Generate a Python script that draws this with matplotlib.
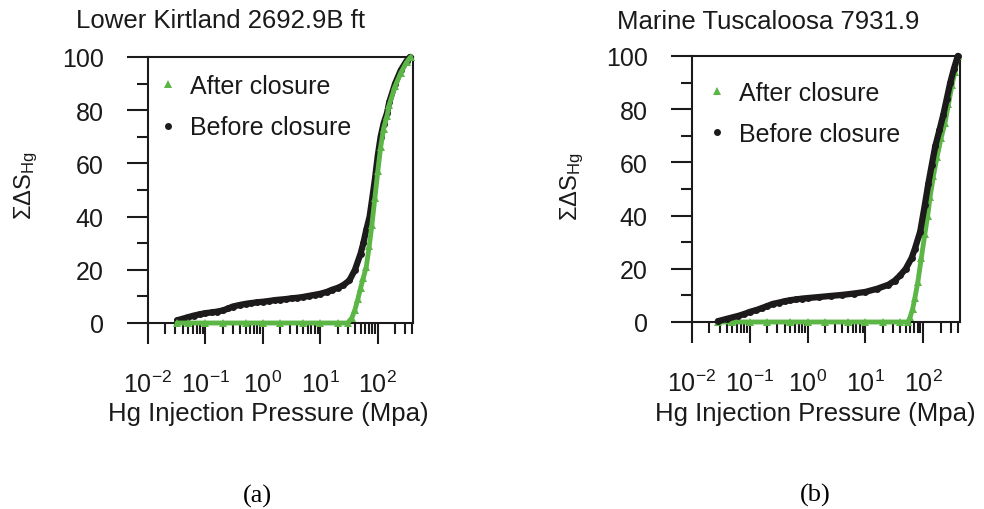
import matplotlib
matplotlib.use("Agg")
import matplotlib.pyplot as plt
from matplotlib.ticker import FixedLocator, LogFormatterSciNotation, NullFormatter

plt.rcParams["font.family"] = ["Liberation Sans", "DejaVu Sans"]
plt.rcParams["mathtext.fontset"] = "custom"
plt.rcParams["mathtext.rm"] = "Liberation Sans"
plt.rcParams["mathtext.it"] = "Liberation Sans:italic"
plt.rcParams["mathtext.default"] = "regular"

# ---- Lower Kirtland 2692.9B ft ----
kirt_before_p = [0.032, 0.04, 0.05, 0.063, 0.08, 0.1, 0.13, 0.16, 0.2, 0.25, 0.3, 0.4,
                 0.5, 0.63, 0.8, 1.0, 1.3, 1.6, 2.0, 2.5, 3.2, 4.0, 5.0, 6.3, 8.0, 10,
                 13, 16, 20, 25, 32, 40, 50, 56, 63, 72, 79, 89, 100, 112, 126, 145,
                 158, 200, 251, 316, 363]
kirt_before_s = [1.0, 1.6, 2.2, 2.8, 3.3, 3.7, 4.0, 4.3, 4.7, 5.5, 6.2, 6.8,
                 7.2, 7.5, 7.8, 8.0, 8.3, 8.6, 8.8, 9.0, 9.3, 9.5, 9.8, 10.2, 10.6, 11.0,
                 11.7, 12.5, 13.2, 14.2, 16, 20, 26, 30, 35, 40, 46, 54, 63, 70, 75, 79,
                 83, 90, 95, 98.5, 100]

kirt_after_p = [0.032, 0.05, 0.1, 0.2, 0.5, 1, 2, 5, 10, 20, 30, 35.5, 40, 45, 50, 56,
                63, 71, 79, 89, 100, 112, 126, 145, 158, 200, 251, 316, 372]
kirt_after_s = [0, 0, 0, 0, 0, 0, 0, 0, 0, 0, 0, 2, 5, 9, 13, 17,
                21, 29, 37, 47, 57, 66, 73, 78, 82, 89, 94, 98, 100]

# ---- Marine Tuscaloosa 7931.9 ----
tusc_before_p = [0.028, 0.04, 0.063, 0.08, 0.1, 0.13, 0.16, 0.2, 0.25, 0.32, 0.4, 0.5,
                 0.63, 0.8, 1.0, 1.6, 2.5, 4.0, 6.3, 10, 16, 25, 32, 40, 50, 63, 72,
                 89, 107, 123, 141, 162, 191, 224, 257, 295, 339, 398]
tusc_before_s = [0.3, 1.2, 2.3, 3.0, 3.8, 4.5, 5.2, 6.0, 6.8, 7.3, 7.8, 8.2,
                 8.5, 8.8, 9.0, 9.4, 9.8, 10.2, 10.7, 11.3, 12.5, 14, 15.5, 17.5, 20, 24, 27.5,
                 34, 44, 52, 59, 66, 72, 78, 84, 90, 95, 100]

tusc_after_p = [0.028, 0.05, 0.1, 0.2, 0.5, 1, 2, 5, 10, 20, 40, 55, 60, 66, 72, 81,
                93, 107, 120, 132, 151, 174, 204, 240, 275, 316, 355, 398]
tusc_after_s = [0, 0, 0, 0, 0, 0, 0, 0, 0, 0, 0, 0, 2, 5, 9, 15,
                24, 33, 40, 47, 55, 62, 69, 75, 82, 89, 94, 100]

titles = ["Lower Kirtland 2692.9B ft", "Marine Tuscaloosa 7931.9"]
panel_tags = ["(a)", "(b)"]
decade_ticks = [0.01, 0.1, 1, 10, 100]
sat_major = [0, 20, 40, 60, 80, 100]
sat_minor = [10, 30, 50, 70, 90]

GREEN = "#5cb646"
BLACK = "#1c1a1a"
TXT = "#1a1a1a"

W, H = 984, 510
fig = plt.figure(figsize=(W / 100, H / 100), dpi=100)


def px_axes(x0, x1, ytop, ybot):
    return fig.add_axes([x0 / W, 1 - ybot / H, (x1 - x0) / W, (ybot - ytop) / H])


def draw_series(ax, p, s, color, marker, ms, lw, z):
    ax.plot(p, s, "-", color=color, lw=lw, zorder=z, clip_on=False, solid_capstyle="round")
    return ax.plot(p, s, linestyle="none", marker=marker, ms=ms, color=color,
                   markeredgewidth=0, zorder=z + 0.1, clip_on=False)[0]


def style_axes(ax, xmax):
    ax.set_xscale("log")
    ax.set_xlim(0.01, xmax)
    ax.set_ylim(0, 100)
    ax.xaxis.set_major_locator(FixedLocator(decade_ticks))
    ax.xaxis.set_major_formatter(LogFormatterSciNotation())
    minors = [m * d for d in decade_ticks for m in range(2, 10) if m * d < xmax]
    ax.xaxis.set_minor_locator(FixedLocator(minors))
    ax.xaxis.set_minor_formatter(NullFormatter())
    ax.yaxis.set_major_locator(FixedLocator(sat_major))
    ax.yaxis.set_minor_locator(FixedLocator(sat_minor))
    for sp in ax.spines.values():
        sp.set_linewidth(1.5)
        sp.set_color(BLACK)
    ax.tick_params(which="major", direction="out", length=15, width=1.5, color=BLACK,
                   labelsize=18, labelcolor=TXT)
    ax.tick_params(which="minor", direction="out", length=8, width=1.5, color=BLACK)
    ax.tick_params(axis="x", which="major", pad=19)
    ax.tick_params(axis="y", which="major", pad=17)


panels = [
    dict(box=(148, 413, 58, 324), xmax=410,
         before=(kirt_before_p, kirt_before_s), after=(kirt_after_p, kirt_after_s),
         green_top=True, title_xy=(221, 21), ylab_xy=(26, 186), xlab_xy=(268, 414),
         leg=(0.046, 0.936), tag_xy=(257, 496)),
    dict(box=(692, 960, 57, 323), xmax=435,
         before=(tusc_before_p, tusc_before_s), after=(tusc_after_p, tusc_after_s),
         green_top=False, title_xy=(768, 22), ylab_xy=(572, 187), xlab_xy=(815, 414),
         leg=(0.067, 0.907), tag_xy=(815, 495)),
]

for i, cfg in enumerate(panels):
    ax = px_axes(*cfg["box"])
    style_axes(ax, cfg["xmax"])
    zb, zg = (3, 4) if cfg["green_top"] else (4, 3)
    hb = draw_series(ax, *cfg["before"], BLACK, "o", 5.0, 4.5, zb)
    hg = draw_series(ax, *cfg["after"], GREEN, "^", 6.0, 3.5, zg)

    leg = ax.legend([hg, hb], ["After closure", "Before closure"], loc="upper left",
                    bbox_to_anchor=cfg["leg"], frameon=False, fontsize=18,
                    handlelength=0.6, handletextpad=0.58, labelspacing=0.69,
                    borderpad=0, borderaxespad=0, markerscale=1.0)
    for t in leg.get_texts():
        t.set_color(TXT)

    tx, ty = cfg["title_xy"]
    fig.text(tx / W, 1 - ty / H, titles[i], ha="center", va="center", fontsize=18.5,
             color=TXT)
    lx, ly = cfg["ylab_xy"]
    fig.text(lx / W, 1 - ly / H, r"ΣΔS$_{\mathregular{Hg}}$", ha="center", va="center",
             rotation=90, fontsize=17, color=TXT)
    xx, xy = cfg["xlab_xy"]
    fig.text(xx / W, 1 - xy / H, "Hg Injection Pressure (Mpa)", ha="center", va="center",
             fontsize=18.5, color=TXT)
    gx, gy = cfg["tag_xy"]
    fig.text(gx / W, 1 - gy / H, panel_tags[i], ha="center", va="center", fontsize=19,
             family=["Liberation Serif", "DejaVu Serif"], color="black")

fig.savefig("out.png", dpi=100)
